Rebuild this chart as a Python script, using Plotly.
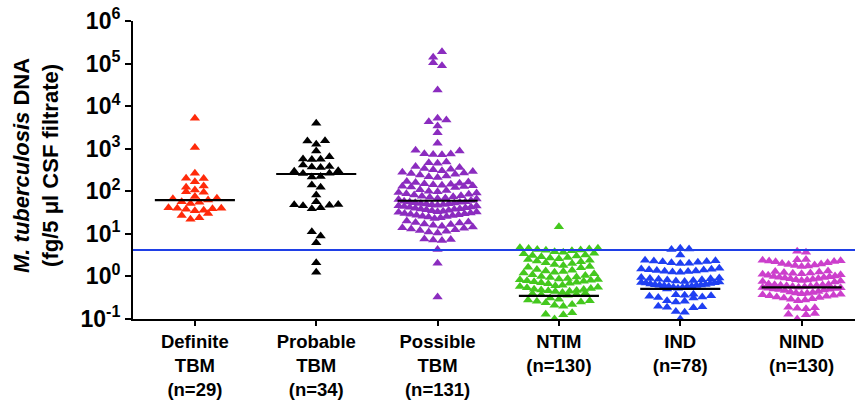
import math
import plotly.graph_objects as go

# ---------------- data ----------------
categories = ["Definite<br>TBM<br>(n=29)", "Probable<br>TBM<br>(n=34)",
              "Possible<br>TBM<br>(n=131)", "NTIM<br>(n=130)",
              "IND<br>(n=78)", "NIND<br>(n=130)"]

definite_tbm = [5200, 1075, 265, 202, 200, 168, 133, 124, 107, 97, 95, 75, 69, 67,
                62, 57, 55, 52, 41, 40, 40, 39, 38, 36, 35, 30, 27, 24, 22]

probable_tbm = [3950, 1540, 1520, 1270, 883, 650, 570, 563, 555, 414,
                380, 370, 362, 302, 296, 265, 260, 222, 218, 141,
                124, 82, 57, 49, 48, 47, 46, 41, 39, 11.2,
                8.9, 6.2, 2.1, 1.25]

possible_tbm = [190000, 140000, 105000, 89000, 24000, 5200, 4700, 4300, 3400, 2380,
                1340, 920, 880, 760, 750, 730, 720, 490, 470, 455,
                380, 360, 345, 330, 320, 305, 290, 280, 270, 260, 250, 240, 230, 220, 210,
                170, 165, 160, 155, 150, 146, 142, 138, 135, 132, 129, 126, 123,
                108, 104, 100, 97, 94, 91, 88, 85, 82, 79, 76, 74, 72, 70, 68, 66, 64,
                61,
                58, 57, 56, 55, 54, 53, 52, 51, 50, 49, 48, 47, 46, 45, 44, 43, 42, 41,
                40, 39, 38.5, 38, 37, 36, 35, 34, 33, 32.5, 32, 31, 30, 29.5, 29, 28,
                27.5, 27, 26, 25.5, 25, 24, 23,
                20, 19, 18.5, 18, 17, 16.5, 16, 15, 14.5, 14, 13.5, 13, 12.5, 12, 11.5,
                11, 10.5,
                7.6, 7.4, 7.2, 7.0,
                4.3, 2.05, 0.33]

ntim = [14.7,
        4.7, 4.6, 4.5, 4.4, 4.3, 4.2, 4.1, 4.0, 3.8, 3.7, 3.5, 3.4, 3.2, 3.1, 3.0,
        2.9, 2.8, 2.7, 2.6, 2.5, 2.4, 2.3, 2.2, 2.1, 2.0, 1.9, 1.8, 1.7, 1.65, 1.6,
        1.45, 1.4, 1.35, 1.3, 1.25, 1.2, 1.15, 1.1, 1.05, 1.0, 0.97, 0.94,
        0.9, 0.87, 0.85, 0.83, 0.81, 0.79, 0.77, 0.75, 0.73, 0.71, 0.69, 0.67,
        0.62, 0.6, 0.58, 0.56, 0.54, 0.52, 0.5, 0.49, 0.48, 0.47, 0.46, 0.45, 0.44, 0.42,
        0.40, 0.39, 0.38, 0.37, 0.36,
        0.31, 0.29, 0.28, 0.27, 0.26, 0.25, 0.24, 0.22, 0.21, 0.2,
        0.14, 0.13, 0.125, 0.1]

ind = [4.6, 4.4, 4.3, 3.2,
       2.4, 2.35, 2.3, 2.25, 2.2, 2.15, 2.1, 2.05, 2.0,
       1.55, 1.5, 1.47, 1.44, 1.41, 1.38, 1.35, 1.32, 1.3, 1.27, 1.25,
       0.95, 0.92, 0.9, 0.88, 0.86, 0.84, 0.82, 0.8, 0.78, 0.76, 0.74, 0.72, 0.71, 0.7,
       0.68, 0.66, 0.65, 0.64, 0.63, 0.62, 0.61, 0.6, 0.59, 0.58, 0.57, 0.56, 0.55,
       0.53, 0.51,
       0.38, 0.37, 0.36, 0.35, 0.34, 0.33, 0.32, 0.31,
       0.27, 0.26, 0.25, 0.2, 0.195, 0.19, 0.185, 0.15, 0.145, 0.1]

nind = [3.9, 3.7,
        2.5, 2.45, 2.4, 2.35, 2.3, 2.25, 2.2, 2.1, 2.0, 1.95, 1.9, 1.85, 1.8, 1.75, 1.7,
        1.35, 1.3, 1.27, 1.24, 1.21, 1.18, 1.15, 1.12, 1.09, 1.06, 1.03, 1.0, 0.98,
        0.96, 0.94, 0.92, 0.9, 0.88, 0.86, 0.84, 0.82, 0.8, 0.78, 0.76, 0.74,
        0.66, 0.65, 0.64, 0.63, 0.62, 0.61, 0.6, 0.59, 0.58, 0.57, 0.56, 0.55, 0.54,
        0.53, 0.52, 0.51, 0.5, 0.49, 0.48, 0.47,
        0.44, 0.43, 0.42, 0.41, 0.40, 0.39, 0.38, 0.37, 0.36, 0.35, 0.34, 0.33, 0.32,
        0.31, 0.30, 0.29, 0.28, 0.27,
        0.19, 0.185, 0.18, 0.175, 0.135, 0.13, 0.125, 0.1]

groups = [definite_tbm, probable_tbm, possible_tbm, ntim, ind, nind]
medians = [62, 255, 60, 0.35, 0.51, 0.555]
cutoff = 4.2

tick_values = [0.1, 1, 10, 100, 1000, 10000, 100000, 1000000]
tick_labels = ["10<sup>-1</sup>", "10<sup>0</sup>", "10<sup>1</sup>", "10<sup>2</sup>",
               "10<sup>3</sup>", "10<sup>4</sup>", "10<sup>5</sup>", "10<sup>6</sup>"]

colors = ["#ff2a0a", "#000000", "#8b2cbf", "#44c81e", "#1f3ff2", "#cc3fcc"]

# ---------------- layout geometry ----------------
W, H = 855, 402
ML, MR, MT, MB = 133, 0, 21, 83
XR = [-0.51, 5.44]
YR = [-1, 6]
PX_PER_CAT = (W - ML - MR) / (XR[1] - XR[0])
PX_PER_DEC = (H - MT - MB) / (YR[1] - YR[0])

ROW_H = 6.5      # px, points closer than this vertically share a row
SPACING = 8.8    # px between neighbours in a row
MAX_W = 78.0     # px, max row width


def swarm_x(vals, center):
    """Prism-like column scatter: bin by pixel height, spread centre-out."""
    n = len(vals)
    py = [math.log10(v) * PX_PER_DEC for v in vals]
    order = sorted(range(n), key=lambda i: vals[i])
    rows, cur, start = [], [], None
    for i in order:
        if cur and py[i] - start > ROW_H:
            rows.append(cur)
            cur = []
        if not cur:
            start = py[i]
        cur.append(i)
    if cur:
        rows.append(cur)
    xs = [center] * n
    for r, row in enumerate(rows):
        m = len(row)
        s = SPACING if m < 2 else min(SPACING, MAX_W / (m - 1))
        if m % 2:
            slots = [0]
            k = 1
            while len(slots) < m:
                slots += [-k, k]
                k += 1
        else:
            slots = []
            k = 0.5
            while len(slots) < m:
                slots += [-k, k]
                k += 1
        if r % 2:
            slots = [-q for q in slots]
        for j, i in enumerate(row):
            xs[i] = center + slots[j] * s / PX_PER_CAT
    return xs


fig = go.Figure()

for gi, vals in enumerate(groups):
    fig.add_trace(go.Scatter(
        x=swarm_x(vals, gi), y=vals, mode="markers",
        marker=dict(symbol="triangle-up", size=9, color=colors[gi],
                    line=dict(width=0)),
        showlegend=False, hoverinfo="y"))

fig.add_trace(go.Scatter(x=XR, y=[cutoff, cutoff], mode="lines",
                         line=dict(color="#1f3fe6", width=2),
                         showlegend=False, hoverinfo="skip"))

for gi, m in enumerate(medians):
    fig.add_trace(go.Scatter(x=[gi - 0.33, gi + 0.33], y=[m, m], mode="lines",
                             line=dict(color="black", width=2.2),
                             showlegend=False, hoverinfo="skip"))

FONT = "Liberation Sans, Arial, sans-serif"

fig.update_layout(
    width=W, height=H,
    margin=dict(l=ML, r=MR, t=MT, b=MB, pad=0),
    paper_bgcolor="white", plot_bgcolor="white",
    font=dict(family=FONT, color="black", size=18, weight="bold"),
    xaxis=dict(range=XR, tickmode="array", tickvals=list(range(6)),
               ticktext=categories,
               tickfont=dict(family=FONT, size=18.5, color="black", weight="bold"),
               showline=True, linecolor="black", linewidth=2, ticks="outside",
               ticklen=5, tickwidth=2, tickcolor="black", showgrid=False,
               zeroline=False),
    yaxis=dict(type="log", range=YR, tickmode="array", tickvals=tick_values,
               ticktext=tick_labels,
               tickfont=dict(family=FONT, size=23, color="black", weight="bold"),
               showline=True, linecolor="black", linewidth=2, ticks="outside",
               ticklen=6, tickwidth=2, tickcolor="black", showgrid=False,
               zeroline=False),
    annotations=[dict(
        text="<i>M. tuberculosis</i> DNA<br>(fg/5 μl CSF filtrate)",
        xref="paper", yref="paper", x=(36 - ML) / (W - ML - MR),
        y=(H - MB - 166) / (H - MT - MB), textangle=-90,
        xanchor="center", yanchor="middle", showarrow=False,
        font=dict(family=FONT, size=22, color="black", weight="bold"))],
)

fig.write_html("out.html")
